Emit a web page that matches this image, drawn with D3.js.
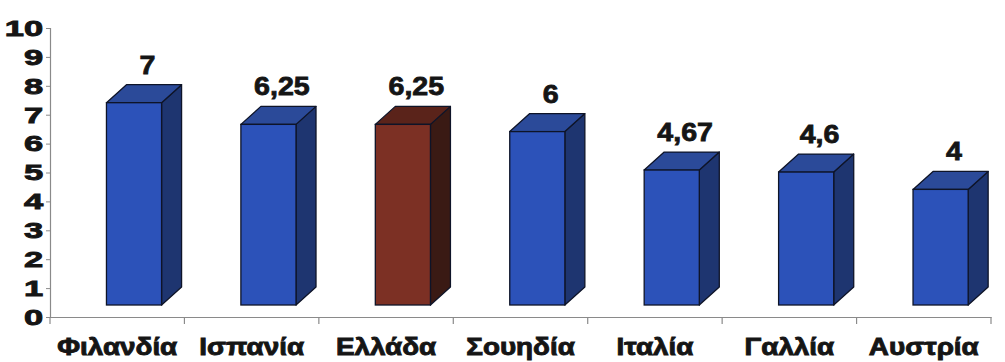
<!DOCTYPE html>
<html>
<head>
<meta charset="utf-8">
<script src="https://cdn.jsdelivr.net/npm/d3@7"></script>
<style>
  html, body { margin: 0; padding: 0; background: #ffffff; }
  svg { display: block; }
  text { font-family: "Liberation Sans", Arial, sans-serif; font-weight: bold; fill: #151515; }
</style>
</head>
<body>
<svg id="chart" width="1005" height="362"></svg>
<script>
// Scores per country
const categories = ["Φιλανδία", "Ισπανία", "Ελλάδα", "Σουηδία", "Ιταλία", "Γαλλία", "Αυστρία"];
const values = [7, 6.25, 6.25, 6, 4.67, 4.6, 4];
const valueLabels = ["7", "6,25", "6,25", "6", "4,67", "4,6", "4"];
const highlighted = ["Ελλάδα"];
const yTicks = [0, 1, 2, 3, 4, 5, 6, 7, 8, 9, 10];

const svg = d3.select("#chart");

const plot = { left: 50, right: 991, top: 28, bottom: 317 };
const x = d3.scaleBand().domain(categories).range([plot.left, plot.right]).padding(0);
const y = d3.scaleLinear().domain([0, 10]).range([plot.bottom, plot.top]);

// 3D box geometry
const depthX = 20, depthY = 18;   // receding offset of the back face
const lift = 12;                   // front face sits above the back wall baseline
const frontOffset = 0.42;          // front face left edge, as fraction of band
const frontWidth = 0.41;           // front face width, as fraction of band

const palette = {
  normal: { front: "#2c52b9", top: "#2b4a99", side: "#1e3570" },
  highlight: { front: "#7c3024", top: "#5a231a", side: "#3a1a14" }
};
const edge = "#0e1428";

// Axes
const axisColor = "#8a8a8a";
const yAxis = svg.append("g")
  .attr("transform", `translate(${plot.left},0)`)
  .call(d3.axisLeft(y).tickValues(yTicks).tickSize(4).tickPadding(6).tickFormat(d3.format("d")));
yAxis.select(".domain").attr("stroke", axisColor).attr("stroke-width", 1.2);
yAxis.selectAll(".tick line").attr("stroke", axisColor);
yAxis.selectAll(".tick text")
  .attr("x", -4.6)
  .attr("transform", "scale(1.5,1)")
  .style("font-size", "23px")
  .style("stroke", "#151515")
  .style("stroke-width", "0.9px");

const xAxis = svg.append("g")
  .attr("transform", `translate(0,${plot.bottom})`)
  .call(d3.axisBottom(x).tickSize(0).tickPadding(0));
xAxis.select(".domain").attr("stroke", axisColor).attr("stroke-width", 1.2);
xAxis.selectAll(".tick text")
  .attr("y", 0).attr("dy", 0)
  .attr("transform", "translate(0,38) scale(1.16,1)")
  .style("font-size", "24px")
  .style("stroke", "#151515")
  .style("stroke-width", "0.9px");

// Band boundary tick marks on the category axis
const boundaries = categories.map(c => x(c)).concat([x.range()[1]]);
xAxis.selectAll(".boundary")
  .data(boundaries)
  .join("line")
  .attr("class", "boundary")
  .attr("x1", d => d).attr("x2", d => d)
  .attr("y1", 0).attr("y2", 7)
  .attr("stroke", axisColor).attr("stroke-width", 1.2);

// Bars
const bars = svg.append("g").selectAll("g.bar")
  .data(categories.map((c, i) => ({ c, v: values[i], label: valueLabels[i] })))
  .join("g")
  .attr("class", "bar");

bars.each(function (d) {
  const g = d3.select(this);
  const col = highlighted.includes(d.c) ? palette.highlight : palette.normal;
  const bw = x.bandwidth();
  const x0 = x(d.c) + bw * frontOffset;
  const x1 = x0 + bw * frontWidth;
  const yTop = y(d.v) - lift;
  const yBot = y(0) - lift;

  // right side face
  g.append("path")
    .attr("d", `M${x1},${yTop} L${x1 + depthX},${yTop - depthY} L${x1 + depthX},${yBot - depthY} L${x1},${yBot} Z`)
    .attr("fill", col.side).attr("stroke", edge).attr("stroke-width", 1.3).attr("stroke-linejoin", "round");
  // top face
  g.append("path")
    .attr("d", `M${x0},${yTop} L${x0 + depthX},${yTop - depthY} L${x1 + depthX},${yTop - depthY} L${x1},${yTop} Z`)
    .attr("fill", col.top).attr("stroke", edge).attr("stroke-width", 1.3).attr("stroke-linejoin", "round");
  // front face
  g.append("rect")
    .attr("x", x0).attr("y", yTop)
    .attr("width", x1 - x0).attr("height", yBot - yTop)
    .attr("fill", col.front).attr("stroke", edge).attr("stroke-width", 1.3);

  // value label
  g.append("text")
    .attr("transform", `translate(${x0 + 41},${yTop - depthY - 11}) scale(1.1,1)`)
    .attr("text-anchor", "middle")
    .style("font-size", "26px")
    .style("stroke", "#151515")
    .style("stroke-width", "0.8px")
    .text(d.label);
});
</script>
</body>
</html>
